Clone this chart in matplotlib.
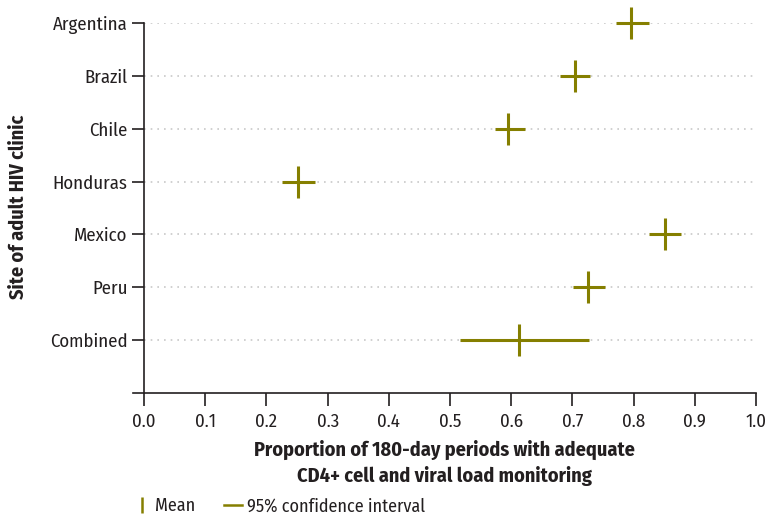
import numpy as np
import matplotlib
matplotlib.use("Agg")
import matplotlib.pyplot as plt
from matplotlib.lines import Line2D

sites = ["Argentina", "Brazil", "Chile", "Honduras", "Mexico", "Peru", "Combined"]
mean = [0.796, 0.705, 0.594, 0.252, 0.851, 0.726, 0.613]
ci_low = [0.771, 0.680, 0.574, 0.225, 0.826, 0.701, 0.517]
ci_high = [0.825, 0.729, 0.623, 0.279, 0.878, 0.754, 0.727]

olive = "#857f00"
text_col = "#231f20"
plt.rcParams["font.family"] = ["Fira Sans Condensed", "Liberation Sans", "DejaVu Sans"]

fig = plt.figure(figsize=(7.65, 5.22), dpi=100)
ax = fig.add_axes([0.1739, 0.2471, 0.8143, 0.7088])

ypos = np.arange(len(sites))[::-1]
mean = np.array(mean)
xerr = [mean - np.array(ci_low), np.array(ci_high) - mean]

for y in ypos:
    ax.axhline(y, xmin=0.0176, color="#c8c8c8", lw=1.2, ls=(0, (1, 3)), zorder=1)

ax.errorbar(mean, ypos, xerr=xerr, fmt="|", color=olive, ecolor=olive,
            elinewidth=2.2, capsize=0, markersize=23, markeredgewidth=2.2,
            zorder=3, clip_on=False)

ax.set_xlim(-0.018, 1.0)
ax.set_ylim(-1, 6)
ax.spines["left"].set_position(("data", 0))
ax.spines["top"].set_visible(False)
ax.spines["right"].set_visible(False)
for s in ["left", "bottom"]:
    ax.spines[s].set_linewidth(1.2)
    ax.spines[s].set_color(text_col)

ticks = np.arange(0, 1.01, 0.1)
ax.set_xticks(ticks)
ax.set_xticklabels([f"{v:.1f}" for v in ticks])
ax.set_yticks(ypos)
ax.set_yticklabels(sites)
ax.tick_params(axis="x", direction="out", length=9, width=1.2, labelsize=13.5, pad=5,
               colors=text_col)
ax.tick_params(axis="y", direction="out", length=9, width=1.2, labelsize=13.5, pad=3,
               colors=text_col)

ax.set_xlabel("Proportion of 180-day periods with adequate\nCD4+ cell and viral load monitoring",
              fontsize=14.5, fontweight="bold", labelpad=7, linespacing=1.4, color=text_col)
fig.text(0.024, 0.603, "Site of adult HIV clinic", rotation=90, ha="center", va="center",
         fontsize=14.5, fontweight="bold", color=text_col)

handles = [Line2D([], [], color=olive, marker="|", ls="none", markersize=12, markeredgewidth=1.8),
           Line2D([], [], color=olive, lw=1.8)]
leg = fig.legend(handles, ["Mean", "95% confidence interval"], loc="lower left",
                 bbox_to_anchor=(0.152, -0.018), ncol=2, frameon=False, fontsize=13,
                 handlelength=1.0, handletextpad=0.25, columnspacing=1.6)
for t in leg.get_texts():
    t.set_color(text_col)

fig.savefig("out.png", dpi=100)
